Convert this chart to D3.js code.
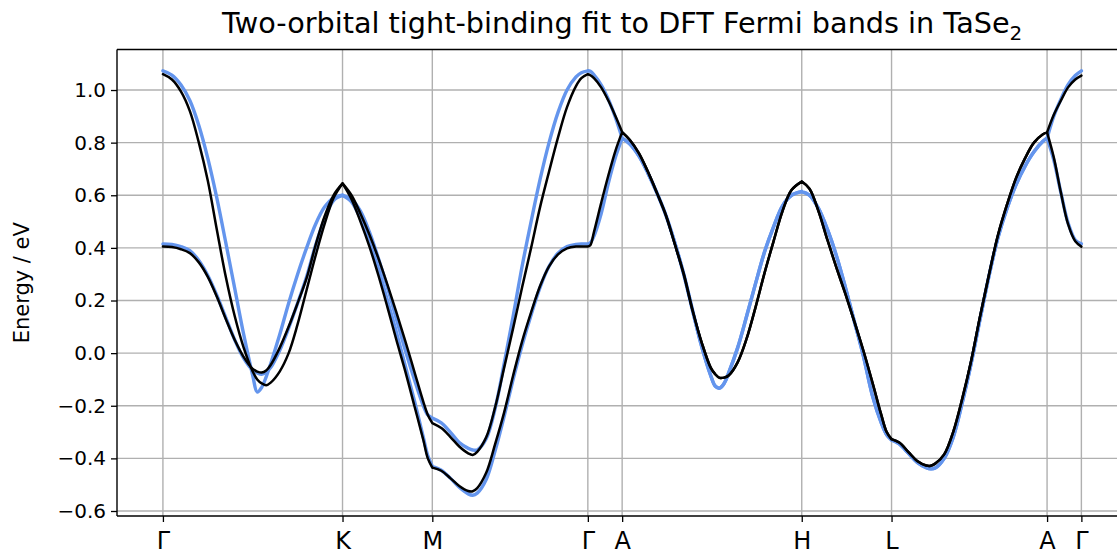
<!DOCTYPE html>
<html><head><meta charset="utf-8">
<script src="https://cdn.jsdelivr.net/npm/d3@7"></script>
<style>
html,body{margin:0;padding:0;background:#fff;overflow:hidden;}
svg{display:block;font-family:"DejaVu Sans",sans-serif;}
</style></head><body>
<svg id="chart" width="1117" height="554"></svg>
<script>
// ---- data ----
const tickLabels = ["Γ","K","M","Γ","A","H","L","A","Γ"];
const tickK = [0, 1, 1.5, 2.366, 2.557, 3.557, 4.057, 4.923, 5.114];
const yTicks = [-0.6, -0.4, -0.2, 0.0, 0.2, 0.4, 0.6, 0.8, 1.0];

// path coordinate along Γ-K-M-Γ-A-H-L-A-Γ (units of |ΓK|)
const kPath = [
0,0.05,0.1,0.15,0.2,0.25,0.3,0.35,0.4,0.45,0.5,0.525,0.55,0.575,0.6,0.65,0.7,0.75,0.8,0.85,0.9,0.95,1,
1.05,1.1,1.15,1.2,1.25,1.3,1.35,1.4,1.45,1.475,1.5,
1.55,1.6,1.65,1.7,1.725,1.75,1.8,1.85,1.9,1.95,2.0,2.05,2.1,2.15,2.2,2.25,2.3,2.33,2.366,
2.38,2.4,2.44,2.48,2.52,2.557,
2.6,2.65,2.7,2.75,2.8,2.85,2.9,2.95,3.0,3.05,3.075,3.1,3.125,3.15,3.2,3.25,3.3,3.35,3.4,3.45,3.5,3.557,
3.6,3.65,3.7,3.75,3.8,3.85,3.9,3.95,4.0,4.03,4.057,
4.1,4.15,4.2,4.25,4.275,4.3,4.35,4.4,4.45,4.5,4.55,4.6,4.65,4.7,4.75,4.8,4.85,4.9,4.923,
4.96,5.0,5.04,5.08,5.114
];

// DFT bands (blue)
const dftUpper = [
1.073,1.057,1.02,0.96,0.865,0.74,0.59,0.42,0.245,0.07,-0.085,-0.148,-0.13,-0.09,-0.04,0.07,0.19,0.30,0.40,0.49,0.555,0.59,0.60,
0.585,0.54,0.46,0.36,0.25,0.13,0.01,-0.10,-0.20,-0.235,-0.247,
-0.265,-0.30,-0.34,-0.362,-0.368,-0.368,-0.325,-0.21,-0.04,0.14,0.33,0.50,0.66,0.80,0.915,1.00,1.05,1.066,1.073,
1.071,1.058,1.02,0.965,0.895,0.817,
0.795,0.75,0.685,0.61,0.525,0.42,0.30,0.16,0.025,-0.085,-0.125,-0.133,-0.115,-0.075,0.02,0.14,0.265,0.385,0.48,0.56,0.60,0.614,
0.60,0.55,0.47,0.37,0.25,0.12,-0.01,-0.16,-0.265,-0.31,-0.33,
-0.345,-0.38,-0.415,-0.435,-0.44,-0.437,-0.40,-0.32,-0.19,-0.04,0.13,0.295,0.44,0.55,0.64,0.71,0.765,0.805,0.817,
0.90,0.965,1.02,1.055,1.073
];
const dftLower = [
0.415,0.413,0.405,0.39,0.352,0.295,0.22,0.135,0.05,-0.02,-0.065,-0.075,-0.08,-0.072,-0.055,0.01,0.095,0.19,0.29,0.41,0.51,0.58,0.60,
0.575,0.51,0.42,0.32,0.20,0.08,-0.05,-0.18,-0.32,-0.39,-0.43,
-0.445,-0.475,-0.51,-0.535,-0.54,-0.532,-0.48,-0.37,-0.24,-0.10,0.03,0.145,0.25,0.33,0.38,0.405,0.413,0.415,0.415,
0.42,0.445,0.53,0.645,0.745,0.817,
0.795,0.75,0.685,0.61,0.525,0.42,0.30,0.16,0.025,-0.085,-0.125,-0.133,-0.115,-0.075,0.02,0.14,0.265,0.385,0.48,0.56,0.60,0.614,
0.60,0.55,0.47,0.37,0.25,0.12,-0.01,-0.16,-0.265,-0.31,-0.33,
-0.345,-0.38,-0.415,-0.435,-0.44,-0.437,-0.40,-0.32,-0.19,-0.04,0.13,0.295,0.44,0.55,0.64,0.71,0.765,0.805,0.817,
0.735,0.61,0.495,0.43,0.415
];

// tight-binding fit (black)
const tbUpper = [
1.06,1.04,0.995,0.92,0.80,0.655,0.47,0.29,0.14,0.02,-0.07,-0.10,-0.115,-0.122,-0.112,-0.07,0.0,0.11,0.24,0.37,0.49,0.59,0.645,
0.60,0.53,0.45,0.36,0.26,0.155,0.045,-0.07,-0.185,-0.235,-0.266,
-0.285,-0.318,-0.355,-0.381,-0.387,-0.375,-0.32,-0.205,-0.055,0.095,0.25,0.40,0.555,0.69,0.82,0.935,1.015,1.045,1.06,
1.056,1.045,1.01,0.96,0.90,0.84,
0.81,0.76,0.69,0.61,0.525,0.415,0.30,0.16,0.04,-0.055,-0.08,-0.094,-0.093,-0.085,-0.035,0.055,0.175,0.305,0.425,0.54,0.62,0.652,
0.625,0.54,0.43,0.325,0.225,0.12,0.01,-0.11,-0.235,-0.30,-0.327,
-0.34,-0.375,-0.41,-0.427,-0.428,-0.42,-0.385,-0.30,-0.175,-0.03,0.14,0.30,0.45,0.565,0.665,0.74,0.80,0.832,0.839,
0.905,0.96,1.01,1.04,1.055
];
const tbLower = [
0.405,0.403,0.395,0.38,0.345,0.29,0.215,0.13,0.05,-0.015,-0.06,-0.07,-0.074,-0.066,-0.045,0.02,0.10,0.19,0.285,0.41,0.52,0.60,0.645,
0.585,0.50,0.405,0.295,0.175,0.05,-0.07,-0.20,-0.33,-0.40,-0.435,
-0.447,-0.475,-0.505,-0.524,-0.525,-0.513,-0.455,-0.345,-0.225,-0.085,0.045,0.155,0.255,0.33,0.375,0.398,0.405,0.405,0.405,
0.41,0.46,0.57,0.675,0.77,0.84,
0.81,0.76,0.69,0.61,0.525,0.415,0.30,0.16,0.04,-0.055,-0.08,-0.094,-0.093,-0.085,-0.035,0.055,0.175,0.305,0.425,0.54,0.62,0.652,
0.625,0.54,0.43,0.325,0.225,0.12,0.01,-0.11,-0.235,-0.30,-0.327,
-0.34,-0.375,-0.41,-0.427,-0.428,-0.42,-0.385,-0.30,-0.175,-0.03,0.14,0.30,0.45,0.565,0.665,0.74,0.80,0.832,0.839,
0.745,0.61,0.49,0.425,0.405
];

// ---- drawing ----
const svg = d3.select("#chart");
const M = {left:117, top:49.5, right:1127.3, bottom:516};
const x = d3.scaleLinear().domain([-0.2557, 5.3697]).range([M.left, M.right]);
const y = d3.scaleLinear().domain([-0.619, 1.154]).range([M.bottom, M.top]);

const grid = svg.append("g").attr("stroke","#b0b0b0").attr("stroke-width",1.4);
grid.selectAll("line.v").data(tickK).join("line").attr("class","v")
  .attr("x1",d=>x(d)).attr("x2",d=>x(d)).attr("y1",M.top).attr("y2",M.bottom);
grid.selectAll("line.h").data(yTicks).join("line").attr("class","h")
  .attr("x1",M.left).attr("x2",M.right).attr("y1",d=>y(d)).attr("y2",d=>y(d));

const line = d3.line().x(d=>x(d[0])).y(d=>y(d[1])).curve(d3.curveCatmullRom.alpha(0.5));
function bandPath(vals){
  let s = "";
  for (let i=0;i<tickK.length-1;i++){
    const pts = [];
    kPath.forEach((k,j)=>{ if (k>=tickK[i]-1e-9 && k<=tickK[i+1]+1e-9) pts.push([k, vals[j]]); });
    if (pts.length>1) s += line(pts);
  }
  return s;
}
const bands = svg.append("g").attr("fill","none").attr("stroke-linejoin","round").attr("stroke-linecap","round");
[[dftUpper,"#6495ED",3.4],[dftLower,"#6495ED",3.4],[tbUpper,"#000",2.5],[tbLower,"#000",2.5]]
 .forEach(([v,c,w])=>bands.append("path").attr("d",bandPath(v)).attr("stroke",c).attr("stroke-width",w));

// axes
const fmt = d3.format(".1f");
const ya = svg.append("g").attr("transform",`translate(${M.left},0)`)
  .call(d3.axisLeft(y).tickValues(yTicks).tickFormat(fmt).tickSize(6).tickPadding(5));
const xa = svg.append("g").attr("transform",`translate(0,${M.bottom})`)
  .call(d3.axisBottom(x).tickValues(tickK).tickFormat((d,i)=>tickLabels[i]).tickSize(6).tickPadding(10));
[ya,xa].forEach(a=>{
  a.select(".domain").remove();
  a.selectAll(".tick line").attr("stroke","#000").attr("stroke-width",1.3);
  a.selectAll(".tick text").attr("fill","#000").attr("font-family","DejaVu Sans");
});
ya.selectAll(".tick text").attr("font-size",20);
xa.selectAll(".tick text").attr("font-size",24);

// spines
const sp = svg.append("g").attr("stroke","#000").attr("stroke-width",1.4).attr("fill","none");
sp.append("line").attr("x1",M.left).attr("x2",M.left).attr("y1",M.top).attr("y2",M.bottom);
sp.append("line").attr("x1",M.left).attr("x2",M.right).attr("y1",M.top).attr("y2",M.top);
sp.append("line").attr("x1",M.left).attr("x2",M.right).attr("y1",M.bottom).attr("y2",M.bottom);
sp.append("line").attr("x1",M.right).attr("x2",M.right).attr("y1",M.top).attr("y2",M.bottom);

// labels
svg.append("text").attr("transform",`translate(22,${(M.top+M.bottom)/2}) rotate(-90)`)
  .attr("text-anchor","middle").attr("dominant-baseline","central")
  .attr("font-size",21).text("Energy / eV");
const t = svg.append("text").attr("x",(M.left+M.right)/2).attr("y",33)
  .attr("text-anchor","middle").attr("font-size",28.7)
  .text("Two-orbital tight-binding fit to DFT Fermi bands in TaSe");
t.append("tspan").attr("font-size",20).attr("dy",7).text("2");
</script>
</body></html>
